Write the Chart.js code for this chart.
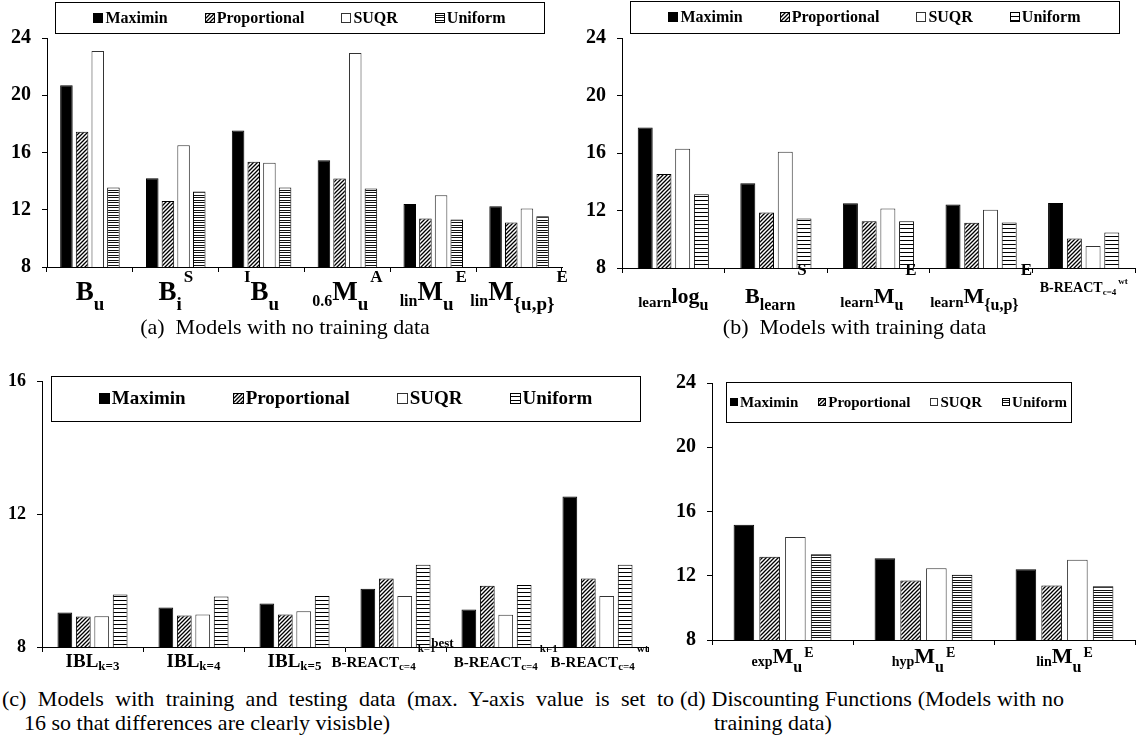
<!DOCTYPE html>
<html>
<head>
<meta charset="utf-8">
<script src="https://cdn.jsdelivr.net/npm/chart.js@4.4.0/dist/chart.umd.min.js"></script>
<style>
  body { margin: 0; background: #fff; width: 1139px; height: 753px; position: relative; overflow: hidden;
         font-family: "Liberation Serif", "Times New Roman", serif; color: #000; }
  canvas { position: absolute; }
  .cap { position: absolute; font-size: 22px; line-height: 24px; white-space: nowrap; }
  .just { text-align: justify; text-align-last: justify; white-space: normal; }
</style>
</head>
<body>
<canvas id="chartA" width="570" height="318" style="left:0;top:0"></canvas>
<canvas id="chartB" width="569" height="318" style="left:570px;top:0"></canvas>
<canvas id="chartC" width="660" height="320" style="left:0;top:360px"></canvas>
<canvas id="chartD" width="479" height="320" style="left:660px;top:360px"></canvas>

<div class="cap" style="left:0;width:570px;top:315px;text-align:center">(a)&nbsp; Models with no training data</div>
<div class="cap" style="left:570px;width:569px;top:315px;text-align:center">(b)&nbsp; Models with training data</div>
<div class="cap just" style="left:2px;top:687px;width:672px">(c) Models with training and testing data (max. Y-axis value is set to</div>
<div class="cap" style="left:24px;top:711px">16 so that differences are clearly visisble)</div>
<div class="cap just" style="left:680px;top:687px;width:384px">(d) Discounting Functions (Models with no</div>
<div class="cap" style="left:714px;top:711px">training data)</div>

<script>
// series names shared by all four panels
const seriesNames = ['Maximin', 'Proportional', 'SUQR', 'Uniform'];

// (a) models with no training data
const catsA = [['B', '_u'], ['B', '_i', '^S'], ['^I', 'B', '_u'], ['_0.6', 'M', '_u', '^A'], ['_lin', 'M', '_u', '^E'], ['_lin', 'M', '_{u,p}', '^E']];
const maximinA = [20.7, 14.2, 17.54, 15.45, 12.41, 12.25];
const proportionalA = [17.45, 12.62, 15.36, 14.18, 11.39, 11.11];
const suqrA = [23.1, 16.5, 15.29, 22.96, 13.02, 12.09];
const uniformA = [13.55, 13.27, 13.55, 13.48, 11.32, 11.55];

// (b) models with training data
const catsB = [['_learn', 'log', '_u'], ['B', '_learn', '^S'], ['_learn', 'M', '_u', '^E'], ['_learn', 'M', '_{u,p}', '^E'], ['B-REACT', '_c=4', '^wt']];
const maximinB = [17.78, 13.9, 12.5, 12.42, 12.53];
const proportionalB = [14.54, 11.86, 11.26, 11.14, 10.06];
const suqrB = [16.3, 16.09, 12.14, 12.05, 9.53];
const uniformB = [13.13, 11.45, 11.26, 11.17, 10.47];

// (c) models with training and testing data
const catsC = [['IBL', '_k=3'], ['IBL', '_k=4'], ['IBL', '_k=5'], ['B-REACT', '_c=4', '^k=1'], ['^best', 'B-REACT', '_c=4', '^k=1'], ['B-REACT', '_c=4', '^wt']];
const maximinC = [9.04, 9.19, 9.31, 9.76, 9.13, 12.54];
const proportionalC = [8.92, 8.95, 8.98, 10.07, 9.85, 10.07];
const suqrC = [8.93, 8.98, 9.08, 9.54, 8.97, 9.54];
const uniformC = [9.58, 9.52, 9.54, 10.48, 9.87, 10.48];

// (d) discounting functions
const catsD = [['_exp', 'M', '_u', '^E'], ['_hyp', 'M', '_u', '^E'], ['_lin', 'M', '_u', '^E']];
const maximinD = [15.17, 13.09, 12.4];
const proportionalD = [13.19, 11.7, 11.39];
const suqrD = [14.42, 12.47, 13.0];
const uniformD = [13.34, 12.07, 11.35];

const FONT = '"Liberation Serif", "Times New Roman", serif';

// small tiles used as bar fills
function makePattern(w, h, draw) {
    const tile = document.createElement('canvas');
    tile.width = w; tile.height = h;
    const g = tile.getContext('2d');
    g.fillStyle = '#fff';
    g.fillRect(0, 0, w, h);
    draw(g);
    return document.createElement('canvas').getContext('2d').createPattern(tile, 'repeat');
}
const hatch = makePattern(4, 4, g => {
    g.strokeStyle = '#000';
    g.lineWidth = 1.3;
    g.beginPath();
    g.moveTo(-1, 5); g.lineTo(5, -1);
    g.moveTo(-1, 1); g.lineTo(1, -1);
    g.moveTo(3, 5); g.lineTo(5, 3);
    g.stroke();
});
// dense stripes (a, d) and sparse stripes (b, c)
const stripesFine = makePattern(4, 5, g => { g.fillStyle = '#111'; g.fillRect(0, 0, 4, 1); g.fillRect(0, 2, 4, 1); });
const stripesWide = makePattern(4, 4, g => { g.fillStyle = '#000'; g.fillRect(0, 0, 4, 1); });

function buildDatasets(maximin, proportional, suqr, uniform, uniformFill) {
    const fills = ['#000', hatch, '#fff', uniformFill];
    const borders = ['#000', '#000', '#333', '#000'];
    return [maximin, proportional, suqr, uniform].map((data, i) => ({
        label: seriesNames[i],
        data: data,
        backgroundColor: fills[i],
        borderColor: borders[i],
        borderWidth: 1,
        borderSkipped: false,
        barPercentage: 0.8,
        categoryPercentage: 0.73
    }));
}

// legend drawn as a framed row of swatches
function drawLegend(chart, opts) {
    const ctx = chart.ctx;
    const [x, y, w, h] = opts.box;
    ctx.save();
    ctx.strokeStyle = '#000';
    ctx.lineWidth = 1;
    ctx.strokeRect(Math.round(x) + 0.5, Math.round(y) + 0.5, Math.round(w), Math.round(h));
    ctx.font = 'bold ' + opts.size + 'px ' + FONT;
    ctx.textBaseline = 'middle';
    ctx.textAlign = 'left';
    const items = chart.data.datasets.map(ds => ({ ds: ds, tw: ctx.measureText(ds.label).width }));
    const total = items.reduce((s, it) => s + opts.swatch + 2 + it.tw, 0) + opts.gap * (items.length - 1);
    let cx = x + (w - total) / 2;
    const cy = y + h / 2;
    items.forEach(it => {
        const s = opts.swatch;
        ctx.fillStyle = it.ds.backgroundColor;
        ctx.fillRect(Math.round(cx), Math.round(cy - s / 2), s, s);
        ctx.strokeStyle = it.ds.borderColor;
        ctx.strokeRect(Math.round(cx) + 0.5, Math.round(cy - s / 2) + 0.5, s - 1, s - 1);
        ctx.fillStyle = '#000';
        ctx.fillText(it.ds.label, cx + s + 2, cy + 1);
        cx += s + 2 + it.tw + opts.gap;
    });
    ctx.restore();
}

// category labels with sub- and superscripts
function drawLabels(chart, cats, o) {
    const ctx = chart.ctx;
    const xs = chart.scales.x;
    ctx.save();
    ctx.fillStyle = '#000';
    ctx.textBaseline = 'alphabetic';
    ctx.textAlign = 'left';
    cats.forEach((segs, i) => {
        const small = segs.some(s => s.startsWith('B-'));
        const st = small ? o.small : o;
        const parts = segs.map((s, k) => {
            let type = 'b', text = s;
            if (s[0] === '_') { type = k === 0 ? 'pre' : 'sub'; text = s.slice(1); }
            else if (s[0] === '^') { type = k === 0 ? 'presup' : 'sup'; text = s.slice(1); }
            const [size, dy] = st[type];
            ctx.font = 'bold ' + size + 'px ' + FONT;
            const lead = type === 'sup' ? 2 : 0;
            return { text, size, dy, lead, w: ctx.measureText(text).width + lead };
        });
        const total = parts.reduce((s, p) => s + p.w, 0);
        let x = xs.getPixelForValue(i) - total / 2 + ((o.shift && o.shift[i]) || 0);
        const y = chart.chartArea.bottom + st.y;
        parts.forEach(p => {
            ctx.font = 'bold ' + p.size + 'px ' + FONT;
            ctx.fillText(p.text, x + p.lead, y + p.dy);
            x += p.w;
        });
    });
    ctx.restore();
}

function makeChart(id, cats, datasets, geo, legendOpts, labelOpts) {
    const ctx = document.getElementById(id).getContext('2d');
    return new Chart(ctx, {
        type: 'bar',
        data: { labels: cats.map(c => c.join('')), datasets: datasets },
        plugins: [{
            id: 'decor',
            afterDraw(chart) {
                drawLegend(chart, legendOpts);
                drawLabels(chart, cats, labelOpts);
            }
        }],
        options: {
            responsive: false,
            animation: false,
            events: [],
            layout: { autoPadding: false, padding: { left: geo.left || 0, top: geo.top, right: geo.right, bottom: 0 } },
            plugins: {
                legend: { display: false },
                tooltip: { enabled: false }
            },
            scales: {
                x: {
                    grid: { drawOnChartArea: false, drawTicks: true, tickLength: 5, color: '#000', offset: true },
                    border: { display: true, color: '#000', width: 1 },
                    ticks: { callback: () => '', font: { size: 1 } },
                    afterFit: s => { s.height = geo.xh; }
                },
                y: {
                    min: geo.min,
                    max: geo.max,
                    grid: { drawOnChartArea: false, drawTicks: true, tickLength: 5, color: '#000' },
                    border: { display: true, color: '#000', width: 1 },
                    ticks: { stepSize: 4, color: '#000', padding: 11, font: { family: FONT, weight: 700, size: geo.tick } },
                    afterFit: s => { s.width = geo.yw; }
                }
            }
        }
    });
}

makeChart('chartA', catsA,
    buildDatasets(maximinA, proportionalA, suqrA, uniformA, stripesFine),
    { top: 38, right: 8, xh: 51, yw: 47, min: 8, max: 24, tick: 20 },
    { box: [55, 2, 489, 31], size: 16, swatch: 10, gap: 37 },
    { y: 33, b: [27, 0], pre: [16, 6], sub: [19, 10], sup: [17, -18], presup: [17, -18],
      small: { y: 30, b: [14, 0], pre: [10, 3], sub: [10, 3], sup: [10, -9], presup: [10, -9] } });

makeChart('chartB', catsB,
    buildDatasets(maximinB, proportionalB, suqrB, uniformB, stripesWide),
    { top: 38, right: 4, xh: 50, yw: 52, min: 8, max: 24, tick: 20 },
    { box: [60, 1, 489, 32], size: 16, swatch: 10, gap: 37 },
    { y: 35, b: [22, 0], pre: [15, 4], sub: [16, 7], sup: [17, -28], presup: [17, -28],
      small: { y: 24, b: [14, 0], pre: [9, 3], sub: [9, 3], sup: [9, -8], presup: [9, -8] } });

makeChart('chartC', catsC,
    buildDatasets(maximinC, proportionalC, suqrC, uniformC, stripesWide),
    { top: 20, right: 12, xh: 33, yw: 42, min: 8, max: 16, tick: 18 },
    { box: [51, 16, 589, 45], size: 19, swatch: 11, gap: 47 },
    { y: 20, b: [19, 0], pre: [13, 3], sub: [13, 3], sup: [12, -15], presup: [13, -19], shift: [0, 0, 0, -12, -2, 2],
      small: { y: 20, b: [15, 0], pre: [11, 3], sub: [11, 3], sup: [11, -15], presup: [13, -20] } });

makeChart('chartD', catsD,
    buildDatasets(maximinD, proportionalD, suqrD, uniformD, stripesFine),
    { top: 23, right: 4, xh: 40, yw: 52, min: 8, max: 24, tick: 20 },
    { box: [66, 22, 345, 40], size: 15, swatch: 8, gap: 20 },
    { y: 23, b: [22, 0], pre: [14, 3], sub: [16, 9], sup: [14, -6], presup: [14, -6],
      small: { y: 23, b: [14, 0], pre: [10, 3], sub: [10, 3], sup: [10, -8], presup: [10, -8] } });
</script>
</body>
</html>
